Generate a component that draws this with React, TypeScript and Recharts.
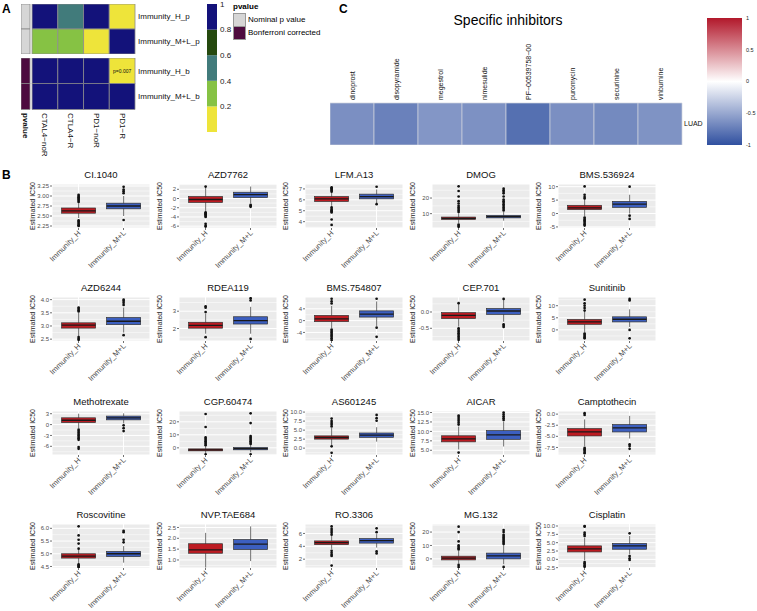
import React from 'react';
import {
  Bar,
  BarChart,
  CartesianGrid,
  Cell,
  ComposedChart,
  LabelList,
  XAxis,
  YAxis,
} from 'recharts';

// ---------- Panel A: p-value heatmap ----------
const aRows = ['Immunity_H_p', 'Immunity_M+L_p', 'Immunity_H_b', 'Immunity_M+L_b'];
const aCols = ['CTAL4\u2212noR', 'CTLA4\u2212R', 'PD1\u2212noR', 'PD1\u2212R'];
const aPvalues = [
  [0.9, 0.5, 0.9, 0.1],
  [0.3, 0.3, 0.1, 0.9],
  [1, 1, 1, 0.007],
  [1, 1, 1, 1],
];
const aNotes = [
  ['', '', '', ''],
  ['', '', '', ''],
  ['', '', '', 'p=0.007'],
  ['', '', '', ''],
];
const aGroups = ['Nominal p value', 'Nominal p value', 'Bonferroni corrected', 'Bonferroni corrected'];
const aBreaks = [0, 0.2, 0.4, 0.6, 0.8, 1];
const aBarTicks = [0.2, 0.4, 0.6, 0.8, 1];

// ---------- Panel C: specific inhibitors ----------
const cDrugs = ['dinoprost', 'disopyramide', 'megestrol', 'nimesulide', 'PF\u221200539758\u221200', 'puromycin', 'securinine', 'vinburnine'];
const cValues = [-0.64, -0.72, -0.6, -0.63, -0.82, -0.64, -0.67, -0.62];
const cRow = 'LUAD';
const cBarTicks = [-1, -0.5, 0, 0.5, 1];

// ---------- Panel B: box plots ----------
const groups = ['Immunity_H', 'Immunity_M+L'];
const drugs = [
  'CI.1040', 'AZD7762', 'LFM.A13', 'DMOG', 'BMS.536924',
  'AZD6244', 'RDEA119', 'BMS.754807', 'CEP.701', 'Sunitinib',
  'Methotrexate', 'CGP.60474', 'AS601245', 'AICAR', 'Camptothecin',
  'Roscovitine', 'NVP.TAE684', 'RO.3306', 'MG.132', 'Cisplatin',
];
const yDomains = [
  [2.2, 3.3], [-6.4, 3.15], [3.42, 7.45], [0.8, 29], [-5.4, 11],
  [2.43, 4.1], [1.28, 3.82], [-6.9, 8], [-0.89, 0.46], [-4.6, 13.6],
  [-8.4, 3.75], [-5.5, 28.3], [-1.9, 10.3], [3.75, 15.4], [-9.2, 0.7],
  [4.44, 6.17], [0.63, 2.66], [0.63, 7.47], [-6.8, 26], [-2.6, 10.6],
];
const yTicks = [
  [2.25, 2.5, 2.75, 3, 3.25], [-6, -4, -2, 0, 2], [4, 5, 6, 7], [10, 20], [-5, 0, 5, 10],
  [2.5, 3, 3.5, 4], [2, 3], [-4, 0, 4], [-0.5, 0], [0, 5, 10],
  [-6, -3, 0, 3], [0, 10, 20], [0, 2.5, 5, 7.5, 10], [5, 7.5, 10, 12.5, 15], [-7.5, -5, -2.5, 0],
  [4.5, 5, 5.5, 6], [1, 1.5, 2, 2.5], [2, 4, 6], [0, 10, 20], [-2.5, 0, 2.5, 5, 7.5, 10],
];
const tickDecimals = [2, 0, 0, 0, 0, 1, 0, 0, 1, 0, 0, 0, 1, 1, 1, 1, 1, 0, 0, 1];
// [lower whisker, q1, median, q3, upper whisker]
const hStats = [
  [2.45, 2.57, 2.63, 2.7, 2.82], [-2.7, -0.86, -0.21, 0.43, 2.6], [5.45, 5.85, 6.09, 6.3, 6.65], [4.0, 6.3, 7.0, 7.8, 10.0], [-1.0, 1.46, 2.1, 3.05, 5.3],
  [2.62, 2.92, 3.03, 3.12, 3.5], [1.7, 2.02, 2.18, 2.36, 2.85], [-2.5, -0.35, 0.6, 1.76, 5.0], [-0.45, -0.2, -0.106, -0.02, 0.25], [-1.0, 2.3, 3.3, 4.3, 7.5],
  [-1.0, 0.56, 1.2, 1.87, 3.0], [-4, -2.3, -1.5, -0.8, 1.5], [0.8, 2.5, 2.95, 3.4, 5.6], [5.2, 7.23, 8.04, 8.84, 11.3], [-7.2, -4.92, -4.0, -3.26, -1.2],
  [4.62, 4.83, 4.91, 5.0, 5.15], [0.65, 1.31, 1.47, 1.75, 2.25], [3.6, 4.26, 4.58, 4.84, 5.6], [-3.5, -0.76, 0.5, 2.0, 6], [-0.3, 2.22, 3.13, 4.04, 6.5],
];
const mlStats = [
  [2.5, 2.68, 2.75, 2.82, 3.0], [-1.0, 0.21, 0.86, 1.36, 2.6], [5.7, 6.09, 6.3, 6.52, 6.95], [5.5, 7.3, 8.1, 8.9, 11.2], [0.0, 2.3, 3.5, 4.5, 7.0],
  [2.75, 3.05, 3.18, 3.32, 3.7], [1.7, 2.26, 2.46, 2.68, 3.25], [-1.8, 1.2, 2.2, 3.3, 6.5], [-0.3, -0.074, 0.03, 0.106, 0.38], [1.2, 3.3, 4.4, 5.4, 8.5],
  [0.3, 1.31, 1.87, 2.34, 3.1], [-3.5, -1.5, -0.6, 0.26, 2.8], [1.8, 3.0, 3.6, 4.2, 5.8], [6.0, 7.9, 9.1, 10.2, 12.5], [-5.5, -4.01, -3.1, -2.35, -0.4],
  [4.65, 4.89, 5.0, 5.09, 5.3], [0.95, 1.48, 1.73, 1.94, 2.55], [3.8, 4.5, 4.9, 5.2, 5.9], [-4, 0, 2.28, 4.3, 10], [1.5, 3.03, 4.04, 4.75, 7.0],
];
const hOutliers = [
  [2.85, 2.88, 2.91, 2.94, 2.97, 3.0, 3.03, 2.39, 2.36, 2.33, 2.3, 2.27, 2.25],
  [2.6, -3.0, -3.2, -3.4, -3.6, -3.8, -4.0, -5.5, -5.9, -6.1],
  [6.75, 6.85, 6.95, 7.05, 7.15, 5.3, 5.15, 5.05, 4.95, 4.85, 4.2, 3.7],
  [11, 12, 13, 14, 15, 16.5, 18, 21, 24.5, 27.5, 3.0, 2.2, 1.6],
  [5.6, 6.2, 7.0, 10.1, -1.5, -2, -2.5, -3, -3.5, -4, -4.5],
  [3.55, 3.6, 3.65, 3.7, 2.58, 2.52, 2.48],
  [2.95, 3.2, 3.28, 1.5],
  [5.8, 6.5, 7.4, -3, -3.5, -4, -4.5, -5, -5.5, -6, -6.6],
  [0.27, -0.5, -0.55, -0.6, -0.65, -0.7, -0.75, -0.8, -0.85],
  [8, 9, 10, 11, 12.5, -1.5, -2, -2.5, -3, -3.5],
  [-1.4, -1.8, -2.2, -2.6, -3, -3.4, -3.8, -4.2, -6.2, -6.7],
  [2, 3, 4, 5, 6, 7, 8, 16, 26, -5],
  [6.0, 6.5, 7.0, 7.5, 8.2, 0.5, -1.3],
  [11.8, 12.3, 12.8, 13.3, 13.8, 14.2, 4.4],
  [0.2, -0.2, -7.6, -7.9, -8.2, -8.5, -8.8],
  [5.2, 5.4, 5.55, 5.72, 6.08, 4.58, 4.54, 4.5, 4.47],
  [],
  [5.8, 6.1, 6.4, 6.7, 7.1, 3.3, 3.0, 2.7, 2.5, 1.0],
  [7, 8, 9, 10, 13, 20, 24, -4.5, -6],
  [7, 7.5, 8, 9.8, 10, -0.8, -1.2, -1.6, -2.0, -2.2],
];
const mlOutliers = [
  [3.07, 3.12, 3.16, 3.23, 2.4],
  [-1.4, -1.6, -1.8],
  [7.2, 5.6],
  [12, 13, 14, 15, 16, 17, 18, 19, 21, 23, 24, 25, 26],
  [10.0, -0.8, -2.0],
  [3.8, 3.88, 3.95, 4.0, 2.65],
  [3.62, 3.75, 1.4],
  [7.4, -2.4, -5.5],
  [0.4, -0.38, -0.42, -0.46],
  [12.2, 12.8, 0, -3.5],
  [-0.2, -1.0, -1.8],
  [3, 4, 5, 6, 7, 8, 9, 19, 26.5, -5],
  [7.6, 8.3, 9.2],
  [13.0, 13.5, 14, 14.5, 15],
  [-6.8, -7.2, -7.8],
  [5.45, 5.55, 5.85, 5.9],
  [],
  [6.2, 6.8, 3.2, 2.9],
  [11, 12, 13, 14, 15, 16, 17, 18, 20, 21.5, -6],
  [7.8, 1.0, 0.3, -0.2],
];

// ---------- styling ----------
const FONT = '"Liberation Sans", Arial, Helvetica, sans-serif';
const RED = '#bd1b22';
const BLUE = '#3c5fc0';
const A_PALETTE = ['#eee43a', '#86c244', '#417b7b', '#25490f', '#13127a'];
const STRIP_COLORS: Record<string, string> = {
  'Nominal p value': '#d6d6d6',
  'Bonferroni corrected': '#4d0b3f',
};
const C_HIGH = '#b2182b';
const C_LOW = '#3050a0';
const STRIP_W = 0.35;
const GAP_W = 0.08;
const COL_LEFT = [0, 127, 253, 380, 506];
const ROW_TOP = [184, 297, 411, 524];

function pColor(p: number): string {
  return A_PALETTE[Math.min(A_PALETTE.length - 1, Math.floor(p / 0.2))];
}

function corrColor(v: number): string {
  const t = Math.min(1, Math.abs(v));
  const end = v < 0 ? C_LOW : C_HIGH;
  const r = parseInt(end.slice(1, 3), 16);
  const g = parseInt(end.slice(3, 5), 16);
  const b = parseInt(end.slice(5, 7), 16);
  const mix = (c: number) => Math.round(255 - (255 - c) * t);
  return `rgb(${mix(r)},${mix(g)},${mix(b)})`;
}

function minorOf(ticks: number[], domain: number[]): number[] {
  const s = ticks.length > 1 ? ticks[1] - ticks[0] : 1;
  let v = ticks[0] - s / 2;
  while (v - s >= domain[0]) v -= s;
  const out: number[] = [];
  for (; v <= domain[1]; v += s) if (v >= domain[0]) out.push(v);
  return out;
}

// ---------- panel A ----------
const aTickPos = [STRIP_W / 2, ...aCols.map((_, j) => STRIP_W + GAP_W + j + 0.5)];
const aTickLabels = ['pvalue', ...aCols];

function ATick(props: any) {
  const { x, y, index } = props;
  return (
    <text
      x={x}
      y={y}
      transform={`rotate(90 ${x} ${y})`}
      textAnchor="start"
      dominantBaseline="central"
      fontSize={8}
      fontWeight={index === 0 ? 'bold' : 'normal'}
      fill="#111"
      fontFamily={FONT}
    >
      {aTickLabels[index]}
    </text>
  );
}

function HeatA({ rows, showX }: { rows: number[]; showX: boolean }) {
  const data = rows.map((r) => {
    const d: Record<string, any> = { row: aRows[r], strip: STRIP_W, gap: GAP_W };
    aCols.forEach((_, j) => {
      d[`c${j}`] = 1;
      d[`n${j}`] = aNotes[r][j];
    });
    return d;
  });
  return (
    <BarChart
      width={189}
      height={showX ? 101 : 50}
      data={data}
      layout="vertical"
      margin={{ top: 0, right: 0, bottom: 0, left: 0 }}
      barCategoryGap={0}
    >
      <XAxis
        type="number"
        domain={[0, STRIP_W + GAP_W + aCols.length]}
        hide={!showX}
        ticks={aTickPos}
        interval={0}
        tick={<ATick />}
        height={50}
        axisLine={false}
        tickLine={false}
        tickSize={0}
        tickMargin={4}
      />
      <YAxis
        type="category"
        dataKey="row"
        orientation="right"
        width={75}
        axisLine={false}
        tickLine={false}
        tickSize={0}
        tickMargin={3}
        tick={{ fontSize: 8, fill: '#111', fontFamily: FONT, textAnchor: 'start' }}
      />
      <Bar dataKey="strip" stackId="a" isAnimationActive={false} stroke="#8c8c8c" strokeWidth={0.8}>
        {rows.map((r) => (
          <Cell key={r} fill={STRIP_COLORS[aGroups[r]]} />
        ))}
      </Bar>
      <Bar dataKey="gap" stackId="a" isAnimationActive={false} fill="transparent" stroke="none" />
      {aCols.map((c, j) => (
        <Bar key={c} dataKey={`c${j}`} stackId="a" isAnimationActive={false} stroke="#8c8c8c" strokeWidth={0.8}>
          {rows.map((r) => (
            <Cell key={r} fill={pColor(aPvalues[r][j])} />
          ))}
          <LabelList dataKey={`n${j}`} position="center" fontSize={5} fill="#111" />
        </Bar>
      ))}
    </BarChart>
  );
}

function ColorbarA() {
  const d: Record<string, any> = { name: 'pvalue' };
  aBreaks.slice(1).forEach((b, k) => {
    d[`b${k}`] = b - aBreaks[k];
  });
  return (
    <BarChart width={32} height={138} data={[d]} margin={{ top: 5, right: 0, bottom: 5, left: 0 }} barCategoryGap={0}>
      <XAxis dataKey="name" hide />
      <YAxis
        type="number"
        domain={[0, 1]}
        ticks={aBarTicks}
        interval={0}
        orientation="right"
        width={22}
        axisLine={false}
        tickLine={false}
        tickSize={0}
        tickMargin={3}
        tick={{ fontSize: 8, fill: '#222', fontFamily: FONT }}
        tickFormatter={(v: number) => String(v)}
      />
      {A_PALETTE.map((col, k) => (
        <Bar key={col} dataKey={`b${k}`} stackId="s" fill={col} isAnimationActive={false} />
      ))}
    </BarChart>
  );
}

// ---------- panel C ----------
function CTick(props: any) {
  const { x, y, index } = props;
  return (
    <text
      x={x}
      y={y}
      transform={`rotate(-90 ${x} ${y})`}
      textAnchor="start"
      dominantBaseline="central"
      fontSize={7}
      fill="#111"
      fontFamily={FONT}
    >
      {cDrugs[index]}
    </text>
  );
}

function HeatC() {
  const d: Record<string, any> = { row: cRow };
  cDrugs.forEach((_, j) => {
    d[`c${j}`] = 1;
  });
  return (
    <BarChart
      width={384}
      height={112}
      data={[d]}
      layout="vertical"
      margin={{ top: 0, right: 0, bottom: 0, left: 0 }}
      barCategoryGap={0}
    >
      <XAxis
        type="number"
        orientation="top"
        domain={[0, cDrugs.length]}
        ticks={cDrugs.map((_, j) => j + 0.5)}
        interval={0}
        tick={<CTick />}
        height={70}
        axisLine={false}
        tickLine={false}
        tickSize={0}
        tickMargin={3}
      />
      <YAxis
        type="category"
        dataKey="row"
        orientation="right"
        width={32}
        axisLine={false}
        tickLine={false}
        tickSize={0}
        tickMargin={2}
        tick={{ fontSize: 7, fill: '#111', fontFamily: FONT, textAnchor: 'start' }}
      />
      {cDrugs.map((name, j) => (
        <Bar key={name} dataKey={`c${j}`} stackId="a" isAnimationActive={false} stroke="#cfd3dc" strokeWidth={0.7}>
          <Cell fill={corrColor(cValues[j])} />
        </Bar>
      ))}
    </BarChart>
  );
}

function ColorbarC() {
  return (
    <BarChart
      width={55}
      height={137}
      data={[{ name: 'corr', range: [cBarTicks[0], cBarTicks[cBarTicks.length - 1]] }]}
      margin={{ top: 5, right: 0, bottom: 5, left: 0 }}
      barCategoryGap={0}
    >
      <defs>
        <linearGradient id="cbarGrad" x1="0" y1="0" x2="0" y2="1">
          <stop offset="0%" stopColor={C_HIGH} />
          <stop offset="50%" stopColor="#ffffff" />
          <stop offset="100%" stopColor={C_LOW} />
        </linearGradient>
      </defs>
      <XAxis dataKey="name" hide />
      <YAxis
        type="number"
        domain={[-1, 1]}
        ticks={cBarTicks}
        interval={0}
        orientation="right"
        width={20}
        axisLine={false}
        tickSize={2}
        tickLine={{ stroke: '#fff' }}
        tickMargin={2}
        tick={{ fontSize: 5.5, fill: '#222', fontFamily: FONT }}
        tickFormatter={(v: number) => String(v)}
      />
      <Bar dataKey="range" fill="url(#cbarGrad)" isAnimationActive={false} />
    </BarChart>
  );
}

// ---------- panel B ----------
function BoxShape(props: any) {
  const { x, y, width, height } = props;
  const p = props.payload ?? props;
  const [lo, q1, med, q3, hi] = p.stats as number[];
  const top = Math.min(y, y + height);
  const bot = Math.max(y, y + height);
  const py = (v: number) => top + ((bot - top) * (hi - v)) / (hi - lo);
  const cx = x + width / 2;
  return (
    <g>
      <line x1={cx} x2={cx} y1={py(hi)} y2={py(lo)} stroke="#333" strokeWidth={0.7} />
      <rect x={x} y={py(q3)} width={width} height={py(q1) - py(q3)} fill={p.color} stroke="#333" strokeWidth={0.7} />
      <line x1={x} x2={x + width} y1={py(med)} y2={py(med)} stroke="#1a1a1a" strokeWidth={1.3} />
      {(p.out as number[]).map((v, k) => (
        <circle key={k} cx={cx} cy={py(v)} r={1.35} fill="#111" />
      ))}
    </g>
  );
}

function BTick(props: any) {
  const { x, y, payload } = props;
  return (
    <text
      x={x}
      y={y}
      dy="0.5em"
      transform={`rotate(-45 ${x} ${y})`}
      textAnchor="end"
      fontSize={7.5}
      fill="#4d4d4d"
      fontFamily={FONT}
    >
      {payload.value}
    </text>
  );
}

function BoxPanel({ i }: { i: number }) {
  const col = i % 5;
  const row = Math.floor(i / 5);
  const left = COL_LEFT[col];
  const top = ROW_TOP[row];
  const dec = tickDecimals[i];
  const data = [
    { g: groups[0], range: [hStats[i][0], hStats[i][4]], stats: hStats[i], out: hOutliers[i], color: RED },
    { g: groups[1], range: [mlStats[i][0], mlStats[i][4]], stats: mlStats[i], out: mlOutliers[i], color: BLUE },
  ];
  return (
    <>
      <div
        style={{
          position: 'absolute',
          left: left + 52,
          width: 98,
          top: top - 15,
          textAlign: 'center',
          fontSize: 9.5,
          lineHeight: '12px',
          color: '#111',
        }}
      >
        {drugs[i]}
      </div>
      <div
        style={{
          position: 'absolute',
          left: left + 33 - 30,
          top: top + 22 - 4,
          width: 60,
          height: 8,
          lineHeight: '8px',
          textAlign: 'center',
          fontSize: 7,
          color: '#222',
          transform: 'rotate(-90deg)',
        }}
      >
        Estimated IC50
      </div>
      <div style={{ position: 'absolute', left, top: top - 4 }}>
        <ComposedChart
          width={152}
          height={104}
          data={data}
          margin={{ top: 4, right: 2, bottom: 0, left: 0 }}
          barCategoryGap="12.5%"
        >
          <CartesianGrid
            fill="#ebebeb"
            stroke="#ffffff"
            strokeWidth={0.5}
            vertical={false}
            horizontalValues={minorOf(yTicks[i], yDomains[i])}
          />
          <CartesianGrid stroke="#ffffff" strokeWidth={1} />
          <XAxis
            dataKey="g"
            type="category"
            padding={{ left: 4, right: 4 }}
            height={56}
            interval={0}
            axisLine={false}
            tickSize={2}
            tickLine={{ stroke: '#333', strokeWidth: 0.7 }}
            tickMargin={1}
            tick={<BTick />}
          />
          <YAxis
            type="number"
            domain={yDomains[i]}
            ticks={yTicks[i]}
            interval={0}
            allowDataOverflow
            width={52}
            axisLine={false}
            tickSize={2}
            tickLine={{ stroke: '#333', strokeWidth: 0.7 }}
            tickMargin={1}
            tick={{ fontSize: 6, fill: '#4d4d4d', fontFamily: FONT }}
            tickFormatter={(v: number) => v.toFixed(dec)}
          />
          <Bar dataKey="range" isAnimationActive={false} shape={<BoxShape />} />
        </ComposedChart>
      </div>
    </>
  );
}

export default function App() {
  const letter = (t: string, left: number, top: number) => (
    <div style={{ position: 'absolute', left, top, fontSize: 12, fontWeight: 'bold', lineHeight: '12px' }}>{t}</div>
  );
  return (
    <div
      style={{
        position: 'absolute',
        left: 0,
        top: 0,
        width: 757,
        height: 611,
        background: '#fff',
        fontFamily: FONT,
        overflow: 'hidden',
      }}
    >
      {letter('A', 2, 3)}
      {letter('B', 2, 169)}
      {letter('C', 339, 3)}

      <div style={{ position: 'absolute', left: 21, top: 4 }}>
        <HeatA rows={[0, 1]} showX={false} />
      </div>
      <div style={{ position: 'absolute', left: 21, top: 58 }}>
        <HeatA rows={[2, 3]} showX />
      </div>
      <div style={{ position: 'absolute', left: 207, top: -1 }}>
        <ColorbarA />
      </div>

      <div style={{ position: 'absolute', left: 233, top: 2, fontSize: 8, fontWeight: 'bold' }}>pvalue</div>
      {['Nominal p value', 'Bonferroni corrected'].map((g, k) => (
        <React.Fragment key={g}>
          <div
            style={{
              position: 'absolute',
              left: 233,
              top: 13 + k * 13,
              width: 11,
              height: 12,
              background: STRIP_COLORS[g],
              border: '1px solid #999',
            }}
          />
          <div style={{ position: 'absolute', left: 248, top: 15 + k * 13, fontSize: 8, lineHeight: '10px' }}>{g}</div>
        </React.Fragment>
      ))}

      <div style={{ position: 'absolute', left: 408, width: 200, top: 12, textAlign: 'center', fontSize: 14, lineHeight: '16px' }}>
        Specific inhibitors
      </div>
      <div style={{ position: 'absolute', left: 330, top: 33 }}>
        <HeatC />
      </div>
      <div style={{ position: 'absolute', left: 707, top: 13 }}>
        <ColorbarC />
      </div>

      {drugs.map((_, i) => (
        <BoxPanel key={i} i={i} />
      ))}
    </div>
  );
}
